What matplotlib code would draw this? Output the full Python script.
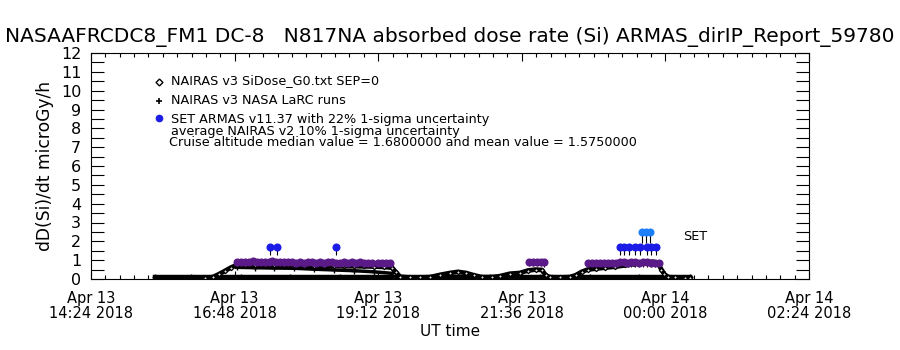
import matplotlib
matplotlib.use("Agg")
import matplotlib.pyplot as plt
import matplotlib.dates as mdates
from matplotlib.ticker import MultipleLocator, FixedLocator
import pandas as pd

base = pd.Timestamp("2018-04-13 14:24")

# NAIRAS v3 SiDose_G0 (minutes after 14:24 UT, microGy/h)
g0_min = [114, 122, 128, 134, 140, 146, 154, 164, 174, 184, 194, 204, 214, 224,
          234, 244, 254, 264, 274, 284, 294, 302, 306, 310, 320, 330, 340, 350,
          360, 368, 376, 384, 392, 402, 410, 420, 430, 438, 446, 452, 456, 460,
          470, 480, 486, 492, 498, 506, 515, 525, 535, 545, 555, 564, 569, 572,
          575, 579, 586, 596, 601]
g0_val = [0.06, 0.10, 0.25, 0.42, 0.60, 0.74, 0.76, 0.76, 0.75, 0.74, 0.73, 0.72,
          0.71, 0.70, 0.70, 0.69, 0.68, 0.68, 0.67, 0.66, 0.64, 0.60, 0.35, 0.12,
          0.08, 0.08, 0.10, 0.22, 0.32, 0.38, 0.32, 0.20, 0.10, 0.10, 0.15, 0.28,
          0.32, 0.45, 0.50, 0.48, 0.20, 0.10, 0.08, 0.10, 0.20, 0.38, 0.50, 0.55,
          0.60, 0.65, 0.72, 0.80, 0.88, 0.92, 0.80, 0.50, 0.25, 0.10, 0.08, 0.06,
          0.05]

# NAIRAS v3 NASA LaRC runs
larc_ground_min = [64, 100, 150, 200, 250, 300, 350, 400, 450, 500, 550, 601]
larc_ground_val = [0.08, 0.08, 0.08, 0.08, 0.08, 0.08, 0.08, 0.08, 0.08, 0.08, 0.08, 0.08]
larc_flight_min = [146, 164, 184, 204, 224, 244, 264, 284, 302]
larc_flight_val = [0.62, 0.60, 0.58, 0.57, 0.52, 0.48, 0.44, 0.38, 0.30]

# SET ARMAS v11.37
armas_min = [146, 150, 154, 158, 162, 166, 170, 174, 178, 182, 186, 190, 194, 198,
             202, 206, 210, 214, 218, 222, 226, 230, 234, 238, 242, 246, 250, 254,
             258, 262, 266, 270, 274, 278, 282, 288, 292, 296, 300,
             439, 443, 447, 451, 454,
             498, 502, 506, 510, 514, 518, 522, 526, 530, 534, 538, 542, 546, 550,
             554, 558, 562, 566, 570,
             179, 187, 246,
             530, 534, 539, 546, 551, 558, 562, 567,
             553, 557, 561]
armas_val = [0.90, 0.92, 0.92, 0.91, 0.93, 0.92, 0.92, 0.91, 0.92, 0.93, 0.92, 0.91,
             0.92, 0.90, 0.88, 0.87, 0.88, 0.87, 0.88, 0.88, 0.87, 0.88, 0.87, 0.88,
             0.88, 0.87, 0.87, 0.88, 0.87, 0.88, 0.87, 0.88, 0.87, 0.87, 0.86,
             0.86, 0.87, 0.86, 0.85,
             0.90, 0.91, 0.90, 0.90, 0.88,
             0.85, 0.86, 0.86, 0.87, 0.87, 0.86, 0.87, 0.87, 0.88, 0.88, 0.87, 0.88,
             0.88, 0.87, 0.88, 0.88, 0.87, 0.86, 0.85,
             1.72, 1.72, 1.72,
             1.72, 1.72, 1.72, 1.72, 1.72, 1.72, 1.72, 1.72,
             2.52, 2.52, 2.52]

title = "NASAAFRCDC8_FM1 DC-8   N817NA absorbed dose rate (Si) ARMAS_dirIP_Report_59780"
legend_lines = ["NAIRAS v3 SiDose_G0.txt SEP=0",
                "NAIRAS v3 NASA LaRC runs",
                "SET ARMAS v11.37 with 22% 1-sigma uncertainty"]
note_avg = "average NAIRAS v2 10% 1-sigma uncertainty"
note_cruise = "Cruise altitude median value = 1.6800000 and mean value = 1.5750000"


def t(mins):
    return base + pd.to_timedelta(mins, unit="min")


def armas_color(v):
    if v < 1.2:
        return "#5a1a88"
    if v < 2.2:
        return "#1c1ce6"
    return "#1e80f8"


fig = plt.figure(figsize=(9, 3.5), dpi=100)
W, H = 900, 350
ax = fig.add_axes([91 / W, 1 - 279 / H, (809 - 91) / W, (279 - 53) / H])

ax.plot(t(larc_ground_min), larc_ground_val, color="black", lw=3.2, marker="+", ms=4)
ax.plot(t(larc_flight_min), larc_flight_val, color="black", lw=2.5, marker="+", ms=4)
ax.plot(t(g0_min), g0_val, color="black", lw=3.4, marker="D", ms=2.2,
        mfc="#dddddd", mec="black", mew=0.9)

for m, v in zip(armas_min, armas_val):
    ax.vlines(t(m), v * 0.75, v, color="black", lw=0.8)
for m, v in zip(armas_min, armas_val):
    ax.plot(t(m), v, marker="o", ms=4.8, color=armas_color(v), mec=armas_color(v), ls="none")

ax.set_xlim(base, base + pd.Timedelta(hours=12))
ax.set_ylim(0, 12)

majors = pd.date_range(base, periods=6, freq="144min")
minors = pd.date_range(base, base + pd.Timedelta(hours=12), freq="864s")
ax.xaxis.set_major_locator(FixedLocator(mdates.date2num(majors)))
ax.xaxis.set_minor_locator(FixedLocator(mdates.date2num(minors)))
ax.xaxis.set_major_formatter(mdates.DateFormatter("%b %d\n%H:%M %Y"))
ax.yaxis.set_major_locator(MultipleLocator(1))
ax.yaxis.set_minor_locator(MultipleLocator(0.5))

ax.tick_params(axis="x", which="both", direction="in", top=True, bottom=True, width=0.8)
ax.tick_params(axis="x", which="major", length=6, pad=9, labelsize=10.5)
ax.tick_params(axis="x", which="minor", length=3)
ax.tick_params(axis="y", which="both", direction="in", left=True, right=True,
               length=9.5, width=0.8, pad=7, labelsize=11.5)
for lab in ax.get_xticklabels():
    lab.set_linespacing(0.95)
for s in ax.spines.values():
    s.set_linewidth(0.8)

fig.text(450 / W, 1 - 37 / H, title, ha="center", va="center", fontsize=14.5)
fig.text(45 / W, 1 - 166 / H, "dD(Si)/dt microGy/h", rotation=90,
         ha="center", va="center", fontsize=12.3)
fig.text(450 / W, 1 - 332 / H, "UT time", ha="center", va="center", fontsize=11)


def fpos(x, y):
    return x / W, 1 - y / H


lx, ly = fpos(159, 82)
fig.lines.append(plt.Line2D([lx], [ly], marker="D", ms=3.5, mfc="white", mec="black",
                            mew=1, transform=fig.transFigure))
lx, ly = fpos(159, 101)
fig.lines.append(plt.Line2D([lx], [ly], marker="+", ms=5, color="black", mew=1.2,
                            transform=fig.transFigure))
lx, ly = fpos(159, 118)
fig.lines.append(plt.Line2D([lx], [ly], marker="o", ms=4.5, color="#1c1ce6",
                            transform=fig.transFigure))
for y, txt in zip([81, 100, 119], legend_lines):
    fig.text(*fpos(171, y), txt, ha="left", va="center", fontsize=9.2)
fig.text(*fpos(171, 131), note_avg, ha="left", va="center", fontsize=9.2)
fig.text(*fpos(169, 143), note_cruise, ha="left", va="center", fontsize=9.2)
fig.text(*fpos(683, 237), "SET", ha="left", va="center", fontsize=9.2)

fig.savefig("out.png", dpi=100)
